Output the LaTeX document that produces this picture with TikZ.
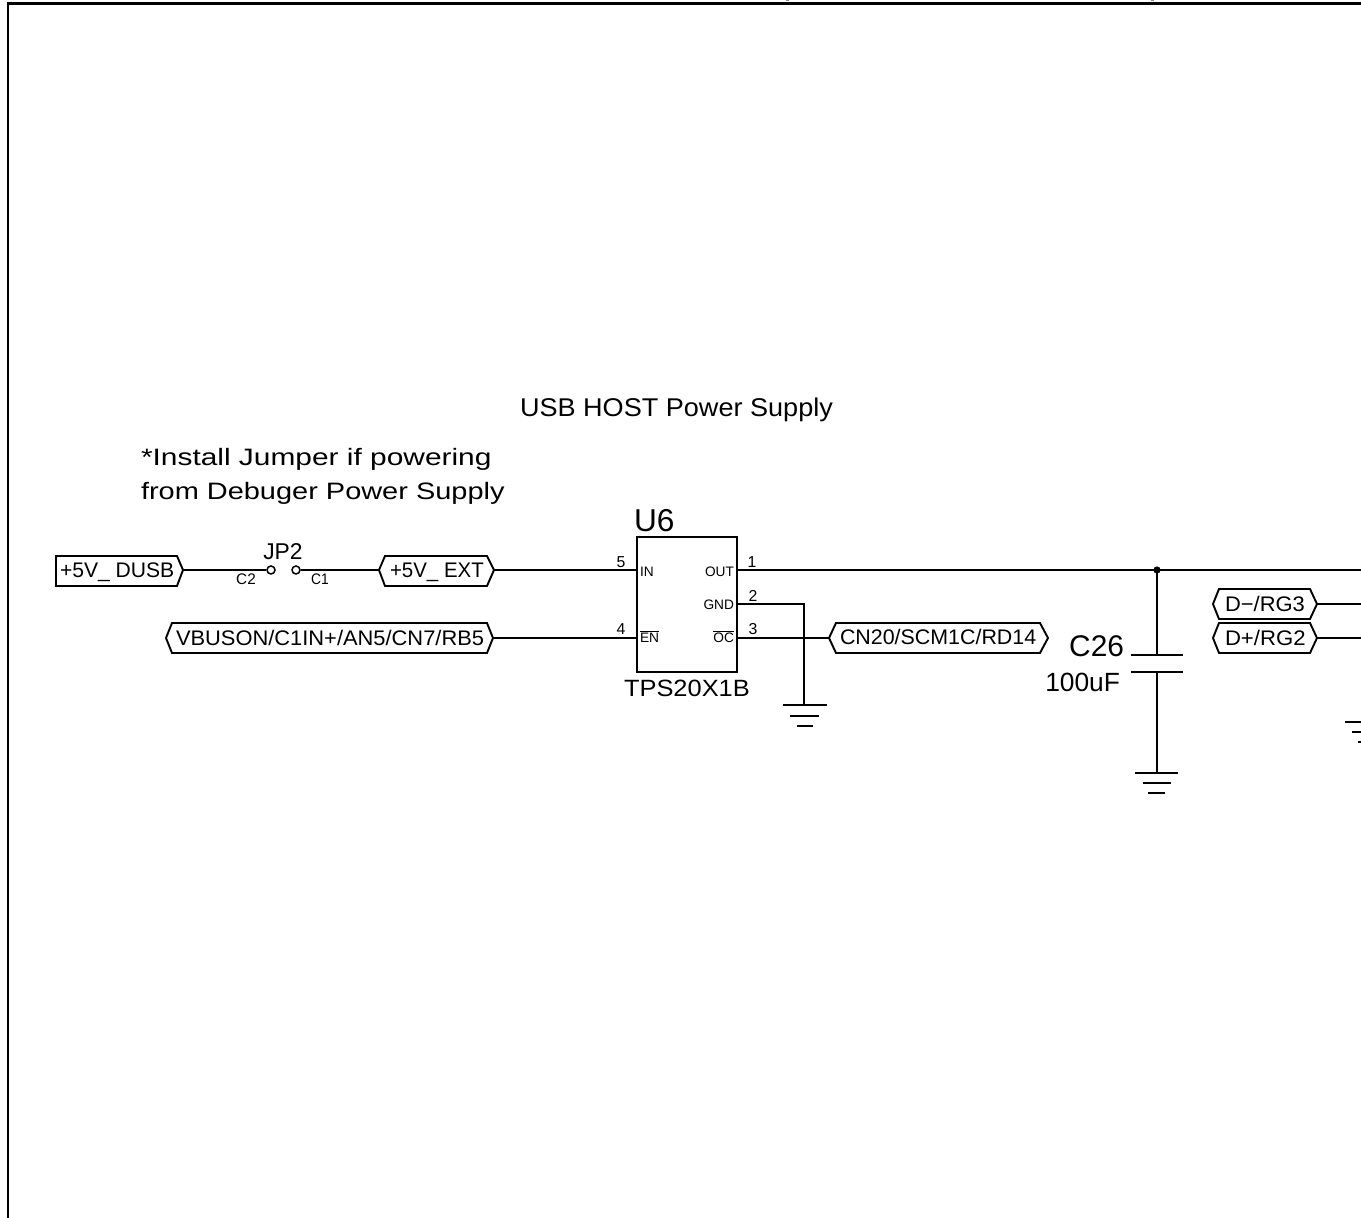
\documentclass[tikz,border=0pt]{standalone}
\usepackage{fontspec}
\setmainfont{Liberation Sans}
\definecolor{c000000}{RGB}{0,0,0}
\definecolor{c8c8c8c}{RGB}{140,140,140}
\def \globalscale {1.000000}
\tikzset{
  wire/.style={draw=c000000,line cap=butt,line join=miter,line width=0.38mm},
  frameline/.style={draw=c000000,line cap=butt,line join=miter,line width=0.46mm},
  capplate/.style={draw=c000000,line cap=butt,line width=0.38mm},
  pad/.style={circle,draw=c000000,fill=white,line width=0.3mm,minimum size=1.6mm,inner sep=0pt},
  txt/.style={text=c000000,inner sep=0pt,outer sep=0pt,font=\fontsize{#1}{#1}\selectfont},
  portbody/.style={draw=c000000,fill=white,line width=0.38mm,line join=miter}
}
\begin{document}
\begin{tikzpicture}[y=0.2mm, x=0.2mm, yscale=\globalscale,xscale=\globalscale, every node/.append style={scale=\globalscale}]
  \useasboundingbox (0.0, 0.0) rectangle (1361.0, 1218.0);
  \path[fill=white] (0.0, 0.0) rectangle (1361.0, 1218.0);

  % sheet frame
  \path[frameline] (8.3, 0.0) -- (8.3, 1214.5) -- (1361.0, 1214.5);
  \path[draw=c8c8c8c,line width=0.6mm] (787.0, 1218.0) -- (787.0, 1217.0);
  \path[draw=c8c8c8c,line width=0.6mm] (1152.0, 1218.0) -- (1152.0, 1217.0);

  % notes
  \node[txt=14.6,anchor=base west,xscale=1.055] (title) at (520.0, 801.0){USB HOST Power Supply};
  \node[txt=13.5,anchor=base west,xscale=1.26] (noteone) at (141.0, 752.0){*Install Jumper if powering};
  \node[txt=13.5,anchor=base west,xscale=1.22] (notetwo) at (141.0, 718.0){from Debuger Power Supply};

  % wire ends
  \coordinate (dusbR) at (183.0, 648.0);
  \coordinate (extL) at (379.0, 648.0);
  \coordinate (extR) at (494.0, 648.0);
  \coordinate (vbusR) at (493.0, 580.0);
  \coordinate (pinIN) at (637.0, 648.0);
  \coordinate (pinEN) at (637.0, 580.0);
  \coordinate (pinOUT) at (737.0, 648.0);
  \coordinate (pinGND) at (737.0, 614.0);
  \coordinate (pinOC) at (737.0, 580.0);
  \coordinate (gndcorner) at (804.0, 614.0);
  \coordinate (gndone) at (804.0, 513.0);
  \coordinate (cnL) at (829.0, 580.0);
  \coordinate (junction) at (1157.0, 648.0);
  \coordinate (rightedge) at (1361.0, 648.0);
  \coordinate (plateup) at (1157.0, 563.0);
  \coordinate (platedn) at (1157.0, 546.0);
  \coordinate (gndtwo) at (1157.0, 445.0);
  \coordinate (dmR) at (1317.0, 614.0);
  \coordinate (dmE) at (1361.0, 614.0);
  \coordinate (dpR) at (1317.0, 580.0);
  \coordinate (dpE) at (1361.0, 580.0);

  % ports
  \path[portbody] (56.0, 662.0) -- (177.0, 662.0) -- (183.0, 648.0) -- (177.0, 632.0) -- (56.0, 632.0) -- cycle;
  \path[portbody] (385.0, 662.0) -- (487.0, 662.0) -- (494.0, 648.0) -- (487.0, 632.0) -- (385.0, 632.0) -- (379.0, 648.0) -- cycle;
  \path[portbody] (172.0, 595.0) -- (487.0, 595.0) -- (493.0, 580.0) -- (487.0, 565.0) -- (172.0, 565.0) -- (166.0, 580.0) -- cycle;
  \path[portbody] (836.0, 595.0) -- (1040.0, 595.0) -- (1048.0, 580.0) -- (1040.0, 565.0) -- (836.0, 565.0) -- (829.0, 580.0) -- cycle;
  \path[portbody] (1219.0, 629.0) -- (1310.0, 629.0) -- (1317.0, 614.0) -- (1310.0, 599.0) -- (1219.0, 599.0) -- (1213.0, 614.0) -- cycle;
  \path[portbody] (1219.0, 595.0) -- (1310.0, 595.0) -- (1317.0, 580.0) -- (1310.0, 565.0) -- (1219.0, 565.0) -- (1213.0, 580.0) -- cycle;

  \node[txt=12,anchor=base west] (dusb) at (60.0, 640.0){+5V\_ DUSB};
  \node[txt=12,anchor=base west,xscale=0.97] (ext) at (390.0, 640.0){+5V\_ EXT};
  \node[txt=12,anchor=base west,xscale=1.037] (vbus) at (176.0, 572.0){VBUSON/C1IN+/AN5/CN7/RB5};
  \node[txt=12,anchor=base west,xscale=1.015] (cn) at (840.0, 573.0){CN20/SCM1C/RD14};
  \node[txt=12,anchor=base west,xscale=1.04] (dm) at (1225.0, 606.0){D−/RG3};
  \node[txt=12,anchor=base west,xscale=1.05] (dp) at (1225.0, 572.0){D+/RG2};

  % jumper
  \node[pad] (padtwo) at (271.0, 648.0){};
  \node[pad] (padone) at (296.0, 648.0){};
  \node[txt=13,anchor=base] (jp) at (283.0, 658.0){JP2};
  \node[txt=8.7,anchor=base] (ctwo) at (246.0, 633.0){C2};
  \node[txt=8.7,anchor=base,xscale=0.9] (cone) at (320.0, 633.0){C1};

  % TPS part
  \node[draw=c000000,line width=0.38mm,minimum width=100*0.2mm,minimum height=135*0.2mm,inner sep=0pt,outer sep=0pt] (part) at (687.0, 613.5){};
  \node[txt=18,anchor=base west] (refdes) at (634.0, 686.0){U6};
  \node[txt=13.4,anchor=base west,xscale=1.08] (tps) at (624.0, 521.0){TPS20X1B};
  \node[txt=7.8,anchor=base west] (in) at (640.0, 641.0){IN};
  \node[txt=7.8,anchor=base west] (en) at (640.0, 575.0){$\overline{\mbox{EN}}$};
  \node[txt=7.8,anchor=base east] (out) at (734.0, 641.0){OUT};
  \node[txt=7.8,anchor=base east] (gnd) at (734.0, 608.0){GND};
  \node[txt=7.8,anchor=base east] (oc) at (734.0, 575.0){$\overline{\mbox{OC}}$};
  \node[txt=9,anchor=base] (pfive) at (621.0, 650.0){5};
  \node[txt=9,anchor=base] (pfour) at (621.0, 583.0){4};
  \node[txt=9,anchor=base] (pone) at (752.0, 650.0){1};
  \node[txt=9,anchor=base] (ptwo) at (753.0, 616.0){2};
  \node[txt=9,anchor=base] (pthree) at (753.0, 583.0){3};

  % connections
  \path[wire] (dusbR) -- (padtwo);
  \path[wire] (padone) -- (extL);
  \path[wire] (extR) -- (pinIN);
  \path[wire] (vbusR) -- (pinEN);
  \path[wire] (pinOUT) -- (rightedge);
  \path[wire] (pinGND) -- (gndcorner) -- (gndone);
  \path[wire] (pinOC) -- (cnL);
  \path[wire] (junction) -- (plateup);
  \path[wire] (platedn) -- (gndtwo);
  \path[wire] (dmR) -- (dmE);
  \path[wire] (dpR) -- (dpE);
  \path[fill=c000000] (junction) circle (3.6);

  % grounds
  \path[capplate] (783.0, 513.0) -- (827.0, 513.0);
  \path[capplate] (790.0, 502.0) -- (819.0, 502.0);
  \path[capplate] (797.0, 492.0) -- (813.0, 492.0);
  \path[capplate] (1135.0, 445.0) -- (1178.0, 445.0);
  \path[capplate] (1143.0, 435.0) -- (1171.0, 435.0);
  \path[capplate] (1148.0, 425.0) -- (1165.0, 425.0);
  \path[capplate] (1345.0, 496.0) -- (1361.0, 496.0);
  \path[capplate] (1352.0, 486.0) -- (1361.0, 486.0);
  \path[capplate] (1358.0, 476.0) -- (1361.0, 476.0);

  % cap
  \path[capplate] (1131.0, 563.0) -- (1183.0, 563.0);
  \path[capplate] (1131.0, 546.0) -- (1183.0, 546.0);
  \node[txt=17,anchor=base east] (cap) at (1124.0, 561.0){C26};
  \node[txt=15,anchor=base east] (value) at (1120.0, 526.0){100uF};
\end{tikzpicture}
\end{document}
